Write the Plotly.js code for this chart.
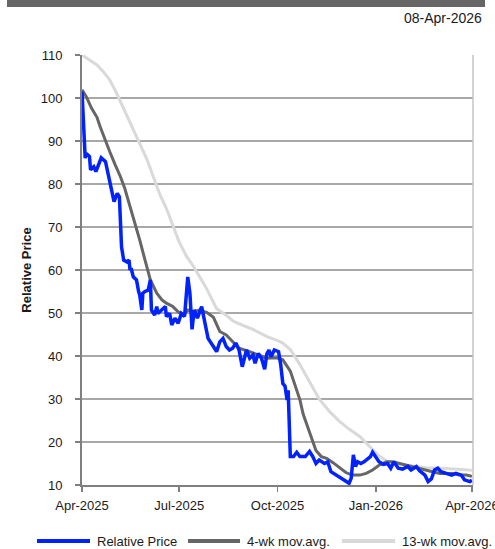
<!DOCTYPE html>
<html>
<head>
<meta charset="utf-8">
<script src="https://cdn.plot.ly/plotly-3.0.1.min.js"></script>
<style>html,body{margin:0;padding:0;background:#fff;}#chart{width:495px;height:549px;}</style>
</head>
<body>
<div id="chart"></div>
<script>
// ---- Data ----
const priceDates = ['2025-04-01','2025-04-04','2025-04-05','2025-04-08','2025-04-09','2025-04-12','2025-04-14','2025-04-17','2025-04-19','2025-04-23','2025-04-26','2025-04-29','2025-05-01','2025-05-04','2025-05-06','2025-05-08','2025-05-10','2025-05-13','2025-05-15','2025-05-16','2025-05-17','2025-05-19','2025-05-22','2025-05-24','2025-05-25','2025-05-27','2025-05-28','2025-05-30','2025-06-02','2025-06-04','2025-06-05','2025-06-08','2025-06-10','2025-06-11','2025-06-15','2025-06-18','2025-06-19','2025-06-22','2025-06-24','2025-06-27','2025-06-30','2025-07-03','2025-07-06','2025-07-09','2025-07-11','2025-07-13','2025-07-15','2025-07-18','2025-07-22','2025-07-25','2025-07-28','2025-08-02','2025-08-05','2025-08-08','2025-08-11','2025-08-14','2025-08-17','2025-08-20','2025-08-23','2025-08-26','2025-08-29','2025-09-02','2025-09-05','2025-09-08','2025-09-10','2025-09-13','2025-09-16','2025-09-19','2025-09-21','2025-09-23','2025-09-25','2025-09-28','2025-10-02','2025-10-04','2025-10-06','2025-10-08','2025-10-10','2025-10-11','2025-10-13','2025-10-16','2025-10-19','2025-10-22','2025-10-27','2025-10-31','2025-11-03','2025-11-06','2025-11-09','2025-11-14','2025-11-17','2025-11-20','2025-11-25','2025-11-30','2025-12-04','2025-12-07','2025-12-09','2025-12-11','2025-12-13','2025-12-15','2025-12-18','2025-12-21','2025-12-25','2025-12-27','2025-12-29','2026-01-02','2026-01-04','2026-01-08','2026-01-12','2026-01-15','2026-01-18','2026-01-22','2026-01-26','2026-01-31','2026-02-03','2026-02-08','2026-02-11','2026-02-16','2026-02-19','2026-02-22','2026-02-25','2026-02-28','2026-03-03','2026-03-08','2026-03-13','2026-03-17','2026-03-22','2026-03-25','2026-03-30','2026-04-01'];
const priceValues = [101.5,86,87.1,86.4,83.3,84,82.9,84.8,86.1,85.2,81.7,78.6,75.9,77.8,77,65.4,62.3,61.9,62.3,60,60.4,58.4,57.7,55,54.2,50.7,54.6,55,55.3,57.7,50.7,49.5,51.5,49.9,50.7,51.5,49.2,49.9,47.2,48.8,47.6,49.9,49.2,58.4,54.6,46.2,50.7,48.8,51.5,47.6,44.1,42.2,41,43.3,44.1,42.2,41.4,41.8,43,41.4,37.5,41.4,39.5,40.2,38.3,40.6,39.5,36.9,40.5,41.4,39.8,41.4,41,38,33.6,33,29.8,32,16.6,16.6,17.6,16.6,16.6,17.8,16.6,15,15.8,15,15.4,13.1,12.3,11.6,10.8,10.4,11.6,17,14.3,15.4,15,15.4,16.2,16.6,17.6,16,15.4,14.8,15,13.9,15.4,13.9,13.7,14.3,13.5,14.3,13.3,12.3,10.8,11.4,13.5,13.9,13.1,12.7,12.3,12.7,12.3,11.2,10.8,11.1];

const ma4Dates = ['2025-04-01','2025-04-05','2025-04-10','2025-04-15','2025-04-18','2025-04-23','2025-04-27','2025-05-02','2025-05-07','2025-05-11','2025-05-16','2025-05-21','2025-05-25','2025-05-30','2025-06-04','2025-06-10','2025-06-15','2025-06-19','2025-06-25','2025-06-30','2025-07-05','2025-07-09','2025-07-14','2025-07-20','2025-07-27','2025-08-02','2025-08-08','2025-08-14','2025-08-20','2025-08-26','2025-09-05','2025-09-14','2025-09-21','2025-09-30','2025-10-06','2025-10-13','2025-10-17','2025-10-22','2025-10-25','2025-10-28','2025-11-02','2025-11-06','2025-11-11','2025-11-16','2025-11-22','2025-11-28','2025-12-04','2025-12-10','2025-12-17','2025-12-23','2025-12-29','2026-01-04','2026-01-11','2026-01-17','2026-01-23','2026-01-30','2026-02-05','2026-02-11','2026-02-17','2026-02-23','2026-03-02','2026-03-14','2026-03-20','2026-03-27','2026-04-01'];
const ma4Values = [101.9,100.3,97.6,95.5,93.3,89.8,87.5,84.5,81.7,79,74.7,70.9,67,62.3,57.7,54.6,53,52.3,51.5,50.3,49.5,50.7,50.3,50.7,50.1,49,45.7,44.9,43.3,41.8,41,40.2,39.5,39.6,39.1,36.5,33.6,29.8,26.5,24.3,21,18,16.6,16.2,15.2,14.1,12.9,12.3,12.3,12.7,13.5,14.6,15.4,15.4,15,14.6,14.3,13.9,13.5,13.1,12.7,12.7,12.3,12.3,12];

const ma13Dates = ['2025-04-01','2025-04-08','2025-04-15','2025-04-21','2025-04-27','2025-05-03','2025-05-08','2025-05-13','2025-05-19','2025-05-25','2025-06-01','2025-06-07','2025-06-13','2025-06-19','2025-06-25','2025-07-01','2025-07-08','2025-07-14','2025-07-20','2025-07-27','2025-08-05','2025-08-14','2025-08-20','2025-08-26','2025-09-08','2025-09-21','2025-09-30','2025-10-06','2025-10-13','2025-10-22','2025-10-31','2025-11-09','2025-11-19','2025-11-28','2025-12-07','2025-12-17','2025-12-26','2026-01-03','2026-01-11','2026-01-20','2026-01-30','2026-02-08','2026-02-17','2026-03-02','2026-03-14','2026-03-23','2026-04-01'];
const ma13Values = [110,108.8,107.7,106.1,104.2,101.3,98.6,96.2,92.6,89.5,85.6,81.5,77.5,74.3,70.5,66.5,63.1,61,58.5,55.5,51,49.5,48.2,47.5,46.2,44.5,43.7,43,41.5,38,34,30,27,24.8,23,21.3,19,17,15.6,15,14.6,14.3,14,13.9,13.8,13.6,13.4];

const seriesNames = ['Relative Price','4-wk mov.avg.','13-wk mov.avg.'];
const tickDates = ['2025-04-01','2025-07-01','2025-10-01','2026-01-01','2026-04-01'];
const tickLabels = ['Apr-2025','Jul-2025','Oct-2025','Jan-2026','Apr-2026'];
const yTicks = [10,20,30,40,50,60,70,80,90,100,110];
const dateStamp = '08-Apr-2026';
const yTitle = 'Relative Price';

// ---- Styles ----
const colors = ['#0022ff','#666666','#d9d9d9'];
const widths = [3.5,3,3];
const FONT = 'Liberation Sans, Arial, sans-serif';

const traces = [
  {x: ma13Dates, y: ma13Values, name: seriesNames[2], type:'scatter', mode:'lines', line:{color:colors[2], width:widths[2]}, showlegend:false, hoverinfo:'skip'},
  {x: ma4Dates, y: ma4Values, name: seriesNames[1], type:'scatter', mode:'lines', line:{color:colors[1], width:widths[1]}, showlegend:false, hoverinfo:'skip'},
  {x: priceDates, y: priceValues, name: seriesNames[0], type:'scatter', mode:'lines', line:{color:colors[0], width:widths[0]}, showlegend:false, hoverinfo:'skip'}
];

// plot area in pixels: x 82..473, y 55..485
const L = 82, R = 473, T = 55, B = 485;
const px = v => (v - L) / (R - L);
const py = v => (B - v) / (B - T);

const legendItems = [
  {x0:37, x1:90, tx:95},
  {x0:188, x1:240, tx:245},
  {x0:342, x1:395, tx:400}
];
const legendY = 541;

const shapes = [
  // top dark band
  {type:'rect', xref:'paper', yref:'paper', x0:px(7), x1:px(485), y0:py(0), y1:py(7), fillcolor:'#666666', line:{width:0}, layer:'above'},
  // right border
  {type:'line', xref:'paper', yref:'paper', x0:1, x1:1, y0:0, y1:1, line:{color:'#c4c4c4', width:1.5}}
];
const annotations = [
  {xref:'paper', yref:'paper', x:px(484), y:py(18), xanchor:'right', yanchor:'middle', text:dateStamp, showarrow:false, font:{family:FONT, size:14, color:'#1a1a1a'}}
];
legendItems.forEach((it, i) => {
  shapes.push({type:'line', xref:'paper', yref:'paper', x0:px(it.x0), x1:px(it.x1), y0:py(legendY), y1:py(legendY), line:{color:colors[i], width:4}});
  annotations.push({xref:'paper', yref:'paper', x:px(it.tx), y:py(legendY), xanchor:'left', yanchor:'middle', text:seriesNames[i], showarrow:false, font:{family:FONT, size:13, color:'#1a1a1a'}});
});

const layout = {
  width:495, height:549,
  margin:{l:L, r:495-R, t:T, b:549-B, pad:0},
  paper_bgcolor:'#ffffff', plot_bgcolor:'#ffffff',
  font:{family:FONT, size:13, color:'#1a1a1a'},
  showlegend:false,
  xaxis:{
    type:'date', range:['2025-04-01','2026-04-02'],
    tickmode:'array', tickvals:tickDates, ticktext:tickLabels,
    showgrid:false, zeroline:false,
    showline:true, linecolor:'#7f7f7f', linewidth:2,
    ticks:'outside', ticklen:5, tickwidth:1.5, tickcolor:'#7f7f7f',
    tickfont:{family:FONT, size:13, color:'#1a1a1a'},
    ticklabelstandoff:2, ticklabeloverflow:'allow'
  },
  yaxis:{
    range:[10,110], tickmode:'array', tickvals:yTicks,
    showgrid:true, gridcolor:'#a8a8a8', gridwidth:1.5,
    zeroline:false,
    showline:true, linecolor:'#7f7f7f', linewidth:2,
    ticks:'outside', ticklen:5, tickwidth:1.5, tickcolor:'#7f7f7f',
    tickfont:{family:FONT, size:13, color:'#1a1a1a'},
    ticklabelstandoff:10,
    title:{text:'<b>'+yTitle+'</b>', font:{family:FONT, size:13, color:'#1a1a1a'}, standoff:6}
  },
  shapes:shapes,
  annotations:annotations
};

Plotly.newPlot('chart', traces, layout, {staticPlot:true, displayModeBar:false});
</script>
</body>
</html>
